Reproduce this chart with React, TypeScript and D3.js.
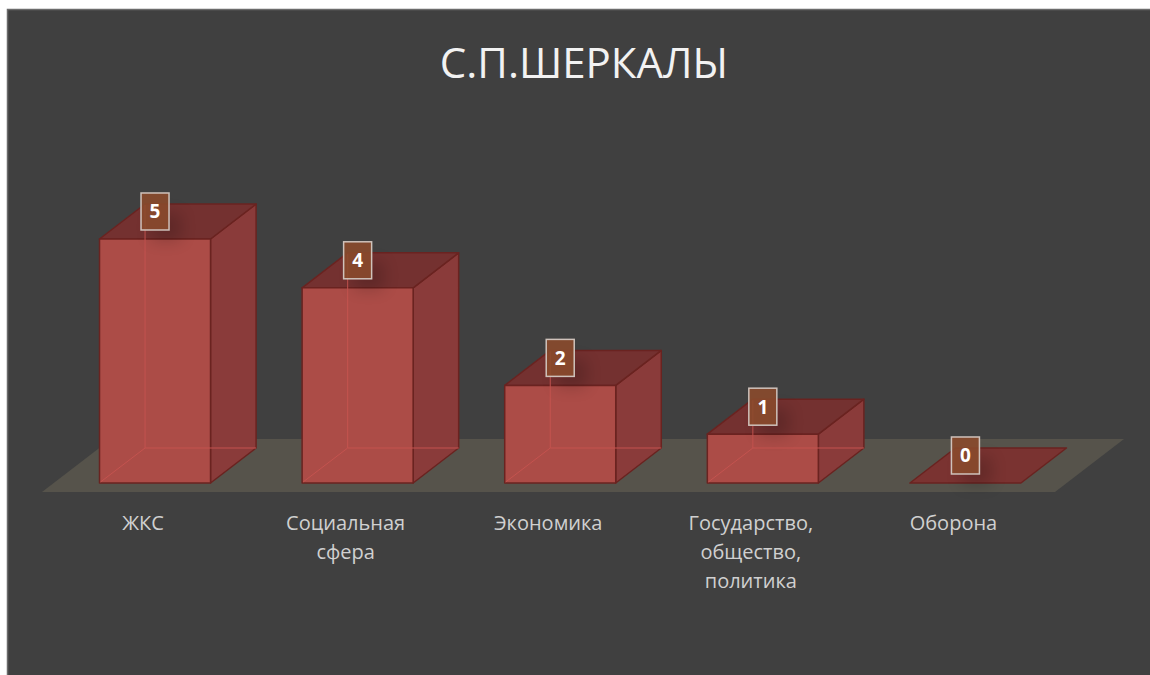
import React from "react";
import * as d3 from "d3";

const categories: string[][] = [
  ["ЖКС"],
  ["Социальная", "сфера"],
  ["Экономика"],
  ["Государство,", "общество,", "политика"],
  ["Оборона"],
];
const values: number[] = [5, 4, 2, 1, 0];
const title = "С.П.ШЕРКАЛЫ";

const W = 1150;
const H = 675;

export default function App() {
  const floorY = 492;
  const floorX0 = 42;
  const floorX1 = 1055;
  const kx = 69;
  const ky = 53;
  const zFront = 0.17;
  const zBack = 0.83;

  const x = d3
    .scaleBand<number>()
    .domain(d3.range(values.length))
    .range([floorX0, floorX1])
    .paddingInner(0.452)
    .paddingOuter(0.226);
  const h = d3.scaleLinear().domain([0, 5]).range([0, 244]);

  const proj = (px: number, z: number, v: number): [number, number] => [
    px + z * kx,
    floorY - z * ky - h(v),
  ];
  const pts = (arr: [number, number][]) => arr.map((p) => p.join(",")).join(" ");

  const floor = pts([
    proj(floorX0, 0, 0),
    proj(floorX1, 0, 0),
    proj(floorX1, 1, 0),
    proj(floorX0, 1, 0),
  ]);

  const edge = "#6a2320";
  const hidden = "#c4534f";

  return (
    <div style={{ position: "absolute", left: 0, top: 0, width: W, height: H }}>
      <svg width={W} height={H} style={{ display: "block" }}>
        <defs>
          <filter id="blur" x="-100%" y="-100%" width="300%" height="300%">
            <feGaussianBlur stdDeviation="8" />
          </filter>
        </defs>
        <rect x={0} y={0} width={W} height={H} fill="#ffffff" />
        <rect x={7.5} y={9.5} width={W} height={H} fill="#404040" stroke="#6b6b6b" strokeWidth={1.5} />
        <text
          x={584}
          y={78}
          textAnchor="middle"
          fontFamily="'Open Sans', 'Liberation Sans', sans-serif"
          fontSize={42}
          fill="#f2f2f2"
        >
          {title}
        </text>
        <polygon points={floor} fill="#56534b" />
        {values.map((v, i) => {
          const x0 = x(i)!;
          const x1 = x0 + x.bandwidth();
          const fbl = proj(x0, zFront, 0);
          const fbr = proj(x1, zFront, 0);
          const ftl = proj(x0, zFront, v);
          const ftr = proj(x1, zFront, v);
          const bbl = proj(x0, zBack, 0);
          const bbr = proj(x1, zBack, 0);
          const btl = proj(x0, zBack, v);
          const btr = proj(x1, zBack, v);
          const cx = (fbl[0] + fbr[0]) / 2;
          return (
            <g key={i}>
              {v > 0 ? (
                <>
                  <polygon points={pts([fbr, bbr, btr, ftr])} fill="#8a3b3a" stroke={edge} strokeWidth={1.5} strokeLinejoin="round" />
                  <polygon points={pts([ftl, ftr, btr, btl])} fill="#743130" stroke={edge} strokeWidth={1.5} strokeLinejoin="round" />
                  <polygon points={pts([fbl, fbr, ftr, ftl])} fill="#ac4c47" stroke={edge} strokeWidth={1.5} strokeLinejoin="round" />
                  <line x1={bbl[0]} y1={bbl[1]} x2={btl[0]} y2={btl[1] + 1} stroke={hidden} strokeWidth={1} />
                  <line x1={bbl[0]} y1={bbl[1]} x2={bbr[0]} y2={bbr[1]} stroke={hidden} strokeWidth={1} />
                  <line x1={bbl[0]} y1={bbl[1]} x2={fbl[0] + 1} y2={fbl[1] - 1} stroke={hidden} strokeWidth={1} />
                </>
              ) : (
                <polygon points={pts([fbl, fbr, bbr, bbl])} fill="#7a3331" stroke={edge} strokeWidth={1.5} strokeLinejoin="round" />
              )}
              <rect
                x={cx - 4}
                y={ftl[1] - 26}
                width={30}
                height={28}
                fill="#000"
                opacity={0.18}
                filter="url(#blur)"
              />
              <rect
                x={cx - 14}
                y={ftl[1] - 46}
                width={28}
                height={37}
                fill="#8a4a2c"
                fillOpacity={0.9}
                stroke="#cfc2bb"
                strokeWidth={1.5}
              />
              <text
                x={cx}
                y={ftl[1] - 20.5}
                textAnchor="middle"
                fontFamily="'Open Sans', 'Liberation Sans', sans-serif"
                fontWeight={700}
                fontSize={19}
                fill="#ffffff"
              >
                {v}
              </text>
              <text
                x={cx - 12}
                textAnchor="middle"
                fontFamily="'Open Sans', 'Liberation Sans', sans-serif"
                fontSize={20}
                fill="#d0d0d0"
              >
                {categories[i].map((line, j) => (
                  <tspan key={j} x={cx - 12} y={530 + j * 29}>
                    {line}
                  </tspan>
                ))}
              </text>
            </g>
          );
        })}
      </svg>
    </div>
  );
}
